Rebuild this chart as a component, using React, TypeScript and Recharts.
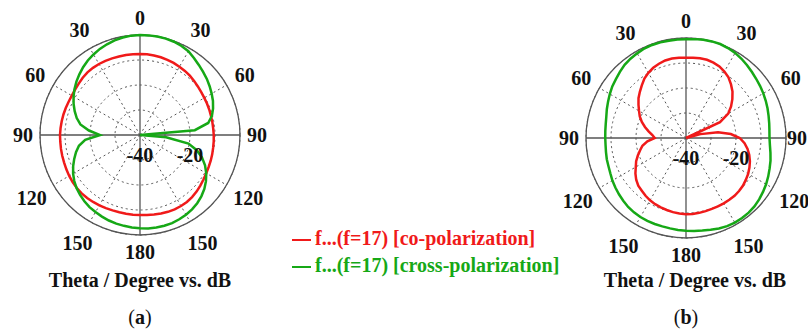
import { PolarAngleAxis, PolarGrid, PolarRadiusAxis, Radar, RadarChart } from "recharts"

// theta in degrees, clockwise from the top (0..355)
const THETA = Array.from({ length: 72 }, (_, i) => i * 5)

// (a) gain in dB at each theta
const coA = [
  -7.6, -7.6, -7.7, -7.8, -8.0, -8.2, -8.5, -8.7, -9.0, -9.4, -9.8, -10.1,
  -10.3, -10.4, -10.5, -10.6, -10.6, -10.6, -10.5, -10.4, -10.3, -10.1, -9.9, -9.7,
  -9.4, -9.0, -8.5, -8.0, -7.6, -7.3, -7.2, -7.2, -7.3, -7.5, -7.7, -7.9,
  -8.0, -8.0, -8.0, -8.0, -7.9, -7.7, -7.5, -7.3, -7.1, -7.0, -7.0, -7.1,
  -7.3, -7.5, -7.7, -7.8, -7.9, -8.0, -8.0, -8.1, -8.2, -8.3, -8.4, -8.5,
  -8.5, -8.3, -8.0, -7.6, -7.3, -7.2, -7.2, -7.3, -7.4, -7.5, -7.5, -7.6,
]
const crossA = [
  0, 0, 0, -0.1, -0.3, -0.7, -1.3, -2.4, -3.4, -4.3, -5.1, -6.0,
  -6.9, -7.8, -8.9, -10.2, -12.3, -18, -40, -29.5, -20.3, -16.5, -13.6, -11.3,
  -9.4, -7.8, -6.4, -5.3, -4.4, -3.7, -3.2, -2.8, -2.5, -2.4, -2.4, -2.5,
  -2.7, -2.9, -3.1, -3.3, -3.6, -4.0, -4.4, -4.8, -5.4, -6.1, -6.9, -7.9,
  -9.1, -10.5, -12.0, -13.5, -15.2, -18.0, -24, -19.5, -15.8, -13.8, -12.2, -10.7,
  -9.3, -8.0, -6.8, -5.7, -4.6, -3.6, -2.8, -2.0, -1.4, -0.8, -0.4, -0.1,
]

// (b)
const coB = [
  -7.9, -7.8, -7.6, -7.6, -7.9, -8.4, -9.3, -10.4, -12.0, -13.7, -15.8, -18.0,
  -20.5, -25, -40, -34, -27, -22, -18.5, -16.5, -15, -13.8, -12.8, -12.0,
  -11.3, -10.8, -10.3, -10.0, -9.8, -9.8, -9.8, -9.8, -9.8, -9.7, -9.6, -9.5,
  -9.5, -9.7, -9.9, -10.2, -10.5, -10.8, -11.2, -11.8, -12.5, -13.0, -14.0, -15.3,
  -16.8, -18.0, -19.5, -21.0, -22.3, -24.5, -27.5, -26.5, -24.8, -23.0, -21.2, -19.6,
  -18.3, -16.8, -15.2, -13.9, -12.5, -11.0, -9.9, -9.0, -8.4, -7.9, -7.7, -7.8,
]
const crossB = [
  -0.5, -0.3, -0.1, 0, 0, -0.3, -0.7, -1.3, -2.0, -2.7, -3.3, -3.8,
  -4.3, -4.8, -5.3, -5.8, -6.2, -6.5, -6.6, -6.3, -5.7, -5.0, -4.4, -3.7,
  -3.0, -2.4, -1.8, -1.3, -1.0, -0.9, -0.9, -1.1, -1.5, -2.0, -2.4, -2.7,
  -2.9, -3.1, -3.3, -3.4, -3.4, -3.4, -3.5, -3.7, -4.0, -4.5, -5.0, -5.5,
  -6.0, -6.6, -7.0, -7.2, -7.5, -7.7, -7.7, -7.6, -7.4, -7.0, -6.3, -5.6,
  -4.8, -4.0, -3.4, -2.6, -1.8, -1.3, -0.9, -0.5, -0.4, -0.4, -0.5, -0.5,
]

const DB_DOMAIN = [-40, 0]
const DB_LABELS = [-40, -20]

const RED = "#f01a1a"
const GREEN = "#16a816"
const GRID = "#555"
const FONT = '"Liberation Serif", "Times New Roman", serif'
const R = 100

const buildRows = (co: number[], cross: number[]) =>
  THETA.map((t, i) => ({ theta: t, co: co[i], cross: cross[i] }))

function PolarPanel({ co, cross, left, width, cx, cy, title }: any) {
  const rows = buildRows(co, cross)

  const angleTick = (props: any) => {
    const { x, y, payload } = props
    const v = payload.value
    if (v % 30 !== 0) return <g />
    const label = v <= 180 ? v : 360 - v
    const diag = v % 90 !== 0
    const dx = x - cx
    const dy = y - cy
    const n = Math.sqrt(dx * dx + dy * dy) || 1
    const push = (diag ? 4 : 0) + (diag && label >= 100 ? 4 : 0)
    // keep the label inside the panel
    const tx = Math.min(x + (dx / n) * push, width - 11)
    return (
      <text
        x={tx}
        y={y + (dy / n) * push}
        dy="0.35em"
        textAnchor="middle"
        fontFamily={FONT}
        fontWeight="bold"
        fontSize={20}
        fill="#111"
      >
        {label}
      </text>
    )
  }

  const radiusTick = (props: any) => {
    const { x, y, payload } = props
    if (!DB_LABELS.includes(payload.value)) return <g />
    return (
      <text x={x} y={y + 20} dy="0.35em" textAnchor="middle" fontFamily={FONT} fontWeight="bold" fontSize={20} fill="#111">
        {payload.value}
      </text>
    )
  }

  return (
    <div style={{ position: "absolute", left, top: 0, width, height: 300 }}>
      <RadarChart
        width={width}
        height={300}
        data={rows}
        cx={cx}
        cy={cy}
        outerRadius={R}
        margin={{ top: 0, right: 0, bottom: 0, left: 0 }}
      >
        <PolarGrid
          gridType="circle"
          polarAngles={[30, 60, 120, 150, 210, 240, 300, 330]}
          stroke={GRID}
          strokeDasharray="2 3"
        />
        <PolarGrid gridType="circle" polarAngles={[0, 90, 180, 270]} polarRadius={[R]} stroke={GRID} strokeWidth={1.3} />
        <PolarAngleAxis dataKey="theta" tick={angleTick} tickLine={false} axisLine={false} tickSize={17} />
        <PolarRadiusAxis
          angle={0}
          domain={DB_DOMAIN}
          tickCount={5}
          tick={radiusTick}
          axisLine={false}
          tickLine={false}
        />
        <Radar dataKey="co" stroke={RED} strokeWidth={2.5} fill="none" fillOpacity={0} dot={false} isAnimationActive={false} />
        <Radar dataKey="cross" stroke={GREEN} strokeWidth={2.5} fill="none" fillOpacity={0} dot={false} isAnimationActive={false} />
      </RadarChart>
      <div
        style={{
          position: "absolute",
          left: 0,
          width,
          top: 270,
          lineHeight: "20px",
          textAlign: "center",
          fontFamily: FONT,
          fontWeight: "bold",
          fontSize: 20,
          color: "#111",
          paddingLeft: cx * 2 - width,
        }}
      >
        {title}
      </div>
    </div>
  )
}

const legendRow = (color: string, text: string, top: number) => (
  <div style={{ position: "absolute", left: 292, top, height: 20, display: "flex", alignItems: "center", whiteSpace: "nowrap" }}>
    <span style={{ display: "inline-block", width: 19, height: 2, background: color, marginRight: 4, marginTop: 3 }} />
    <span style={{ fontFamily: FONT, fontWeight: "bold", fontSize: 20, lineHeight: "20px", color }}>{text}</span>
  </div>
)

export default function App() {
  return (
    <div style={{ position: "absolute", left: 0, top: 0, width: 808, height: 336, background: "#fff", overflow: "hidden" }}>
      <PolarPanel co={coA} cross={crossA} left={0} width={280} cx={140} cy={135} title="Theta / Degree vs. dB" />
      <PolarPanel co={coB} cross={crossB} left={546} width={262} cx={140} cy={138} title="Theta / Degree vs. dB" />
      {legendRow(RED, "f...(f=17) [co-polarization]", 228)}
      {legendRow(GREEN, "f...(f=17) [cross-polarization]", 255)}
      <div style={{ position: "absolute", left: 110, width: 60, top: 307, textAlign: "center", fontFamily: FONT, fontSize: 20, lineHeight: "20px", color: "#111" }}>
        (<b>a</b>)
      </div>
      <div style={{ position: "absolute", left: 656, width: 60, top: 307, textAlign: "center", fontFamily: FONT, fontSize: 20, lineHeight: "20px", color: "#111" }}>
        (<b>b</b>)
      </div>
    </div>
  )
}
